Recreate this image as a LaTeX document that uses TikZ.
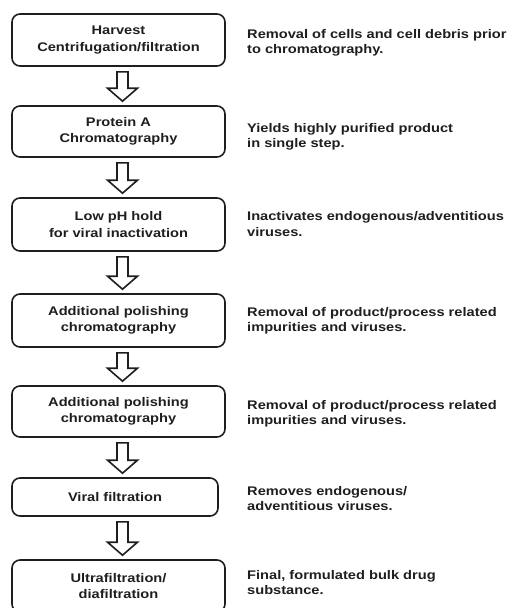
\documentclass[tikz,border=0pt]{standalone}
\usepackage{fontspec}
\setmainfont{Liberation Sans}[FakeStretch=1.17]
\usetikzlibrary{calc}

\definecolor{inkgray}{HTML}{1E1E1E}

% hollow block arrow from one step box to the next
\newcommand{\flowarrow}[2]{%
  \draw [arrowline] ($(#1.south -| axis)+(-5.5,5)$) -- ($(#1.south -| axis)+(5.5,5)$)
    -- ($(#2.north -| axis)+(5.5,-17)$) -- ($(#2.north -| axis)+(15,-17)$)
    -- ($(#2.north -| axis)+(0,-4)$) -- ($(#2.north -| axis)+(-15,-17)$)
    -- ($(#2.north -| axis)+(-5.5,-17)$) -- cycle;}

\begin{document}
\begin{tikzpicture}[x=1pt, y=-1pt,
    stepbox/.style={draw=inkgray, line width=1.6pt, rounded corners=8pt,
      minimum width=213pt, minimum height=52pt, align=center,
      font=\bfseries\fontsize{12.5}{16.5}\selectfont, text=inkgray},
    note/.style={anchor=west, align=left, inner sep=0pt,
      font=\bfseries\fontsize{12.5}{15.5}\selectfont, text=inkgray},
    arrowline/.style={draw=inkgray, line width=1.6pt, line join=miter, fill=white}]

    \useasboundingbox (0, 0) rectangle (508, 608);
    \coordinate (axis) at (122.5, 0);

    \node [stepbox] (harvest) at (118.5, 40) {Harvest\\Centrifugation/filtration};
    \node [stepbox, minimum height=51pt] (protein) at (118.5, 131.5) {Protein A\\Chromatography};
    \node [stepbox, minimum height=53pt] (lowph) at (118.5, 224.5) {Low pH hold\\for viral inactivation};
    \node [stepbox, minimum height=53pt] (polish1) at (118.5, 320.5) {Additional polishing\\chromatography};
    \node [stepbox, minimum height=51pt] (polish2) at (118.5, 411.5) {Additional polishing\\chromatography};
    \node [stepbox, minimum width=206pt, minimum height=38pt] (viral) at (115, 497) {Viral filtration};
    \node [stepbox] (ufdf) at (118.5, 586) {Ultrafiltration/\\diafiltration};

    \flowarrow{harvest}{protein}
    \flowarrow{protein}{lowph}
    \flowarrow{lowph}{polish1}
    \flowarrow{polish1}{polish2}
    \flowarrow{polish2}{viral}
    \flowarrow{viral}{ufdf}

    \node [note] (n1) at (247, 43) {Removal of cells and cell debris prior\\to chromatography.};
    \node [note] (n2) at (247, 137) {Yields highly purified product\\in single step.};
    \node [note] (n3) at (247, 224) {Inactivates endogenous/adventitious\\viruses.};
    \node [note] (n4) at (247, 321) {Removal of product/process related\\impurities and viruses.};
    \node [note] (n5) at (247, 414) {Removal of product/process related\\impurities and viruses.};
    \node [note] (n6) at (247, 498.5) {Removes endogenous/\\adventitious viruses.};
    \node [note] (n7) at (247, 582.5) {Final, formulated bulk drug\\substance.};

  \end{tikzpicture}
\end{document}
